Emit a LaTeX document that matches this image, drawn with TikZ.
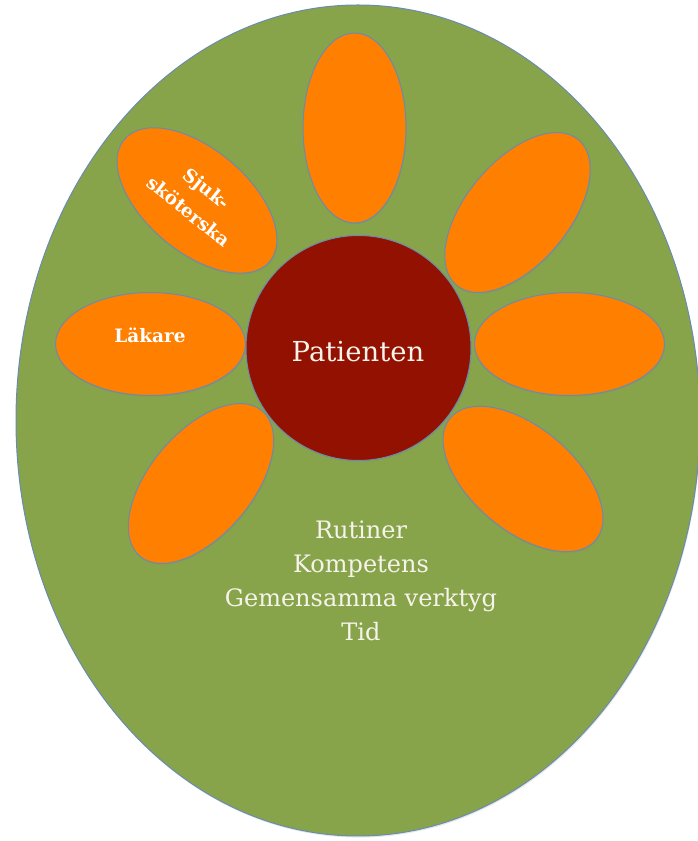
\documentclass[tikz,border=0pt]{standalone}
\usepackage{fontspec}
\setmainfont{DejaVu Serif}
\usetikzlibrary{shapes.geometric,shadows}
\definecolor{bggreen}{HTML}{88A44B}
\definecolor{petalorange}{HTML}{FF7F00}
\definecolor{coredred}{HTML}{931100}
\definecolor{edgeblue}{HTML}{6A8BB0}
\definecolor{softwhite}{HTML}{F6F3EA}
\tikzset{
  softshadow/.style={drop shadow={opacity=0.18, shadow xshift=0.8pt, shadow yshift=-1.6pt}},
  petal/.style={ellipse, draw=edgeblue, line width=1pt, fill=petalorange, softshadow,
    minimum width=190pt, minimum height=103pt, inner sep=0pt},
  plabel/.style={text=white, font=\fontsize{18.5}{29}\selectfont\bfseries, align=center},
  infotext/.style={text=softwhite, font=\fontsize{24}{34}\selectfont, anchor=base, inner sep=0pt}
}
\begin{document}
\begin{tikzpicture}[x=1pt,y=1pt]
\useasboundingbox (0,0) rectangle (697,841);
\node[ellipse, draw=edgeblue, line width=1pt, fill=bggreen, softshadow, minimum width=684pt, minimum height=831pt, inner sep=0pt] (bg) at (358,420.5) {};
\node[petal, rotate=90] (ptop) at (354.5,713) {};
\node[petal, rotate=-40] (psjuk) at (197,640.5) {};
\node[petal, rotate=50] (pur) at (517.5,628.5) {};
\node[petal] (plak) at (150.5,497) {};
\node[petal] (pright) at (569.5,497) {};
\node[petal, rotate=50] (pll) at (201,357.5) {};
\node[petal, rotate=-40] (plr) at (523,362) {};
\node[circle, draw=edgeblue, line width=1pt, fill=coredred, softshadow, minimum size=225pt, inner sep=0pt] (core) at (358.5,493) {};
\node[text=softwhite, font=\fontsize{27.5}{32}\selectfont] (pat) at (358,489) {Patienten};
\node[plabel] (lak) at (150,506) {Läkare};
\node[plabel, rotate=-38.5] (sjuk) at (198,641) {Sjuk-\\sköterska};
\node[infotext] (t1) at (361,302) {Rutiner};
\node[infotext] (t2) at (361,268) {Kompetens};
\node[infotext] (t3) at (361,234) {Gemensamma verktyg};
\node[infotext] (t4) at (361,200) {Tid};
\end{tikzpicture}
\end{document}
